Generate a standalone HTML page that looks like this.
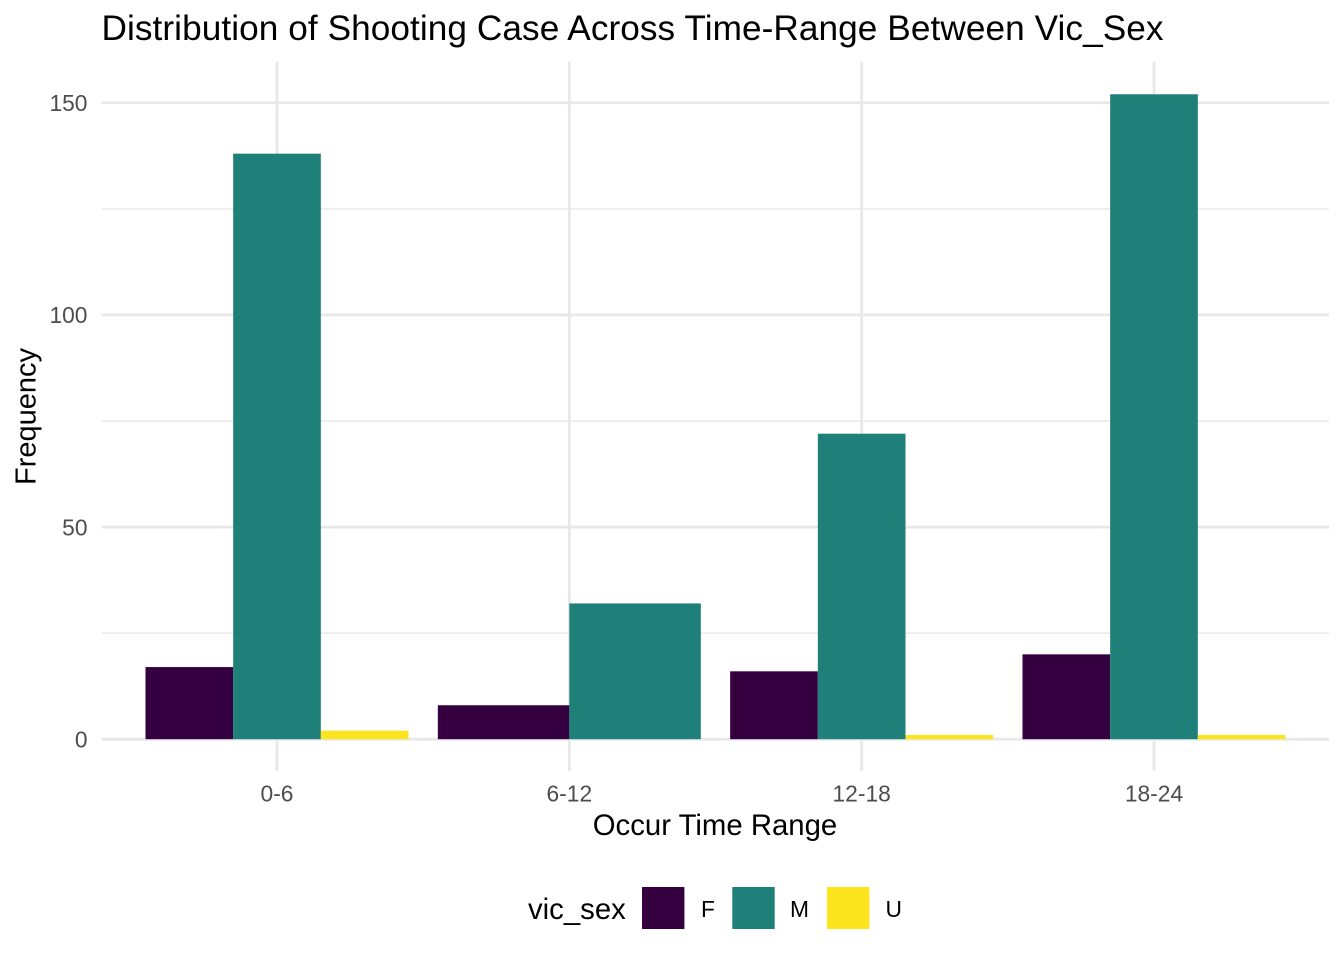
<!DOCTYPE html>
<html>
<head>
<meta charset="utf-8">
<title>Distribution of Shooting Case</title>
<style>
html,body{margin:0;padding:0;background:#fff;}
svg{display:block;}
text{font-family:"Liberation Sans",Arial,sans-serif;}
</style>
</head>
<body>
<svg id="chart" xmlns="http://www.w3.org/2000/svg" width="1344" height="960" viewBox="0 0 1344 960">
<rect width="1344" height="960" fill="#fff"/>
<g id="grid"></g>
<g id="bars"></g>
<g id="ticks"></g>
<text x="101.5" y="40" font-size="35.2" fill="#000" textLength="1062" lengthAdjust="spacing">Distribution of Shooting Case Across Time-Range Between Vic_Sex</text>
<text x="715" y="835" font-size="29.33" fill="#000" text-anchor="middle">Occur Time Range</text>
<text transform="translate(35.5 416.5) rotate(-90)" font-size="29" fill="#000" text-anchor="middle">Frequency</text>
<g id="legend">
<text x="528" y="919" font-size="29.33" fill="#000">vic_sex</text>
</g>
</svg>
<script>
const categories = ['0-6', '6-12', '12-18', '18-24'];
const seriesNames = ['F', 'M', 'U'];
const valuesF = [17, 8, 16, 20];
const valuesM = [138, 32, 72, 152];
const valuesU = [2, null, 1, 1];
const yMajorTicks = [0, 50, 100, 150];
const yMinorTicks = [25, 75, 125];

const NS = 'http://www.w3.org/2000/svg';
const colors = ['#340040', '#1f7f79', '#fde51e'];
const allSeries = [valuesF, valuesM, valuesU];
const panel = {left: 101.6, right: 1329, top: 62, bottom: 771};
const yZero = 739.2, yPerUnit = 4.243;
const xFirst = 277, xStep = 292.33, groupWidth = 263;
function yScale(v) { return yZero - v * yPerUnit; }
function xScale(i) { return xFirst + i * xStep; }
function mk(tag, attrs, parent) {
  const el = document.createElementNS(NS, tag);
  for (const k in attrs) el.setAttribute(k, attrs[k]);
  parent.appendChild(el);
  return el;
}
const grid = document.getElementById('grid');
const bars = document.getElementById('bars');
const ticks = document.getElementById('ticks');
const legend = document.getElementById('legend');

yMinorTicks.forEach(function (v) {
  const l = mk('line', {x1: panel.left, x2: panel.right, y1: yScale(v), y2: yScale(v), stroke: '#e9e9e9', 'stroke-width': 1.5}, grid);
  
  
});
yMajorTicks.forEach(function (v) {
  const l = mk('line', {x1: panel.left, x2: panel.right, y1: yScale(v), y2: yScale(v), stroke: '#e8e8e8', 'stroke-width': 2.8}, grid);
  
  
  const t = mk('text', {x: 87.5, y: yScale(v) + 8.2, 'font-size': 22.8, fill: '#4d4d4d', 'text-anchor': 'end'}, ticks);
  
  
  t.textContent = v;
});
categories.forEach(function (c, i) {
  const l = mk('line', {x1: xScale(i), x2: xScale(i), y1: panel.top, y2: panel.bottom, stroke: '#e8e8e8', 'stroke-width': 2.8}, grid);
  
  
  const t = mk('text', {x: xScale(i), y: 801.5, 'font-size': 22.8, fill: '#4d4d4d', 'text-anchor': 'middle'}, ticks);
  
  
  t.textContent = c;

  const present = [];
  allSeries.forEach(function (s, si) { if (s[i] !== null && s[i] !== undefined) present.push(si); });
  const w = groupWidth / present.length;
  present.forEach(function (si, pos) {
    const v = allSeries[si][i];
    const r = mk('rect', {x: xScale(i) - groupWidth / 2 + pos * w, y: yScale(v), width: w, height: yZero - yScale(v), fill: colors[si]}, bars);
    
    
  });
});
const swatchX = [642, 732.3, 827];
const labelX = [701, 790, 885.5];
seriesNames.forEach(function (n, i) {
  const r = mk('rect', {x: swatchX[i], y: 887, width: 42.4, height: 42, fill: colors[i]}, legend);
  
  
  const t = mk('text', {x: labelX[i], y: 917, 'font-size': 22.8, fill: '#000'}, legend);
  
  
  t.textContent = n;
});
</script>
</body>
</html>
